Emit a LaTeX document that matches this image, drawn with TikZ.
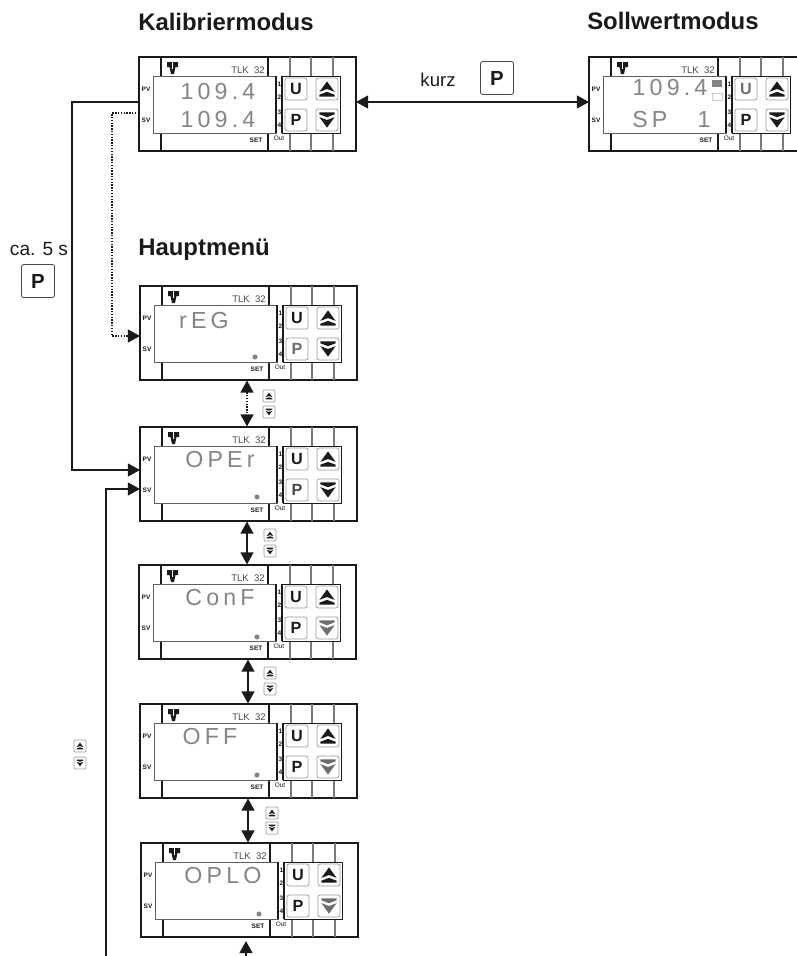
\documentclass[tikz,border=0pt]{standalone}
\usepackage{fontspec}
\setmainfont{Liberation Sans}
\newfontfamily\segfont[LetterSpace=18]{Liberation Sans}
\usepackage{xcolor}
\definecolor{ink}{HTML}{1A1A1A}
\definecolor{segment}{HTML}{858585}
\definecolor{rail}{HTML}{7A7A7A}
\definecolor{fadekey}{HTML}{6E6E6E}
\definecolor{keyedge}{HTML}{9A9A9A}
\usetikzlibrary{arrows.meta}
\tikzset{
  >={Triangle[length=8.6pt,width=9.2pt]},
  frame/.style  ={draw=ink,line width=0.8pt,inner sep=0pt,minimum width=154.3pt,
                  minimum height=66.8pt},
  dsp/.style    ={font=\segfont\fontsize{16.5}{17}\selectfont,text=segment,inner sep=0pt},
  title/.style  ={font=\fontsize{17}{17}\selectfont\bfseries,text=ink,anchor=west,inner sep=0pt},
  lbl/.style    ={font=\fontsize{13.2}{13.2}\selectfont,text=ink,inner sep=0pt},
  tiny/.style   ={font=\fontsize{4.6}{5}\selectfont\bfseries,text=ink,inner sep=0pt},
  model/.style  ={font=\fontsize{6.8}{7}\selectfont,text=ink!80,inner sep=0pt},
  key/.style    ={draw=keyedge,fill=white,rounded corners=1.5pt,line width=0.5pt,
                  minimum size=15.6pt,inner sep=0pt,font=\fontsize{11.5}{12}\selectfont\bfseries},
  bigkey/.style ={draw=ink!80,fill=white,rounded corners=1.5pt,line width=0.6pt,
                  minimum size=23.4pt,inner sep=0pt,font=\fontsize{14.5}{15}\selectfont\bfseries,text=ink},
  minikey/.style={draw=keyedge,fill=white,rounded corners=0.8pt,line width=0.5pt,
                  minimum size=8.6pt,inner sep=0pt},
  setdot/.style ={circle,fill=segment,inner sep=0pt,minimum size=3.6pt},
  flow/.style   ={draw=ink,line width=1pt},
  dots/.style   ={draw=ink,line width=1pt,densely dotted},
}
% arrow glyph of a key: x, y, scale, direction (1 up, -1 down), colour
\newcommand{\keyicon}[5]{%
  \fill[#5,shift={(#1,#2)},xscale=#3,yscale=#3*#4]
    (0,-8) -- (8,3) -- (0,0) -- (-8,3) -- cycle
    (0,3) -- (8,6) -- (8,8) -- (-8,8) -- (-8,6) -- cycle;
}
% pair of small keys
\newcommand{\minikeys}[4]{%
  \node[minikey] (#1-up) at (#2,#3) {};
  \node[minikey] (#1-dn) at (#2,#4) {};
  \keyicon{#2}{#3}{0.42}{1}{ink}
  \keyicon{#2}{#4}{0.42}{-1}{ink}
}
% controller front: name, x, y, colour of U, colour of P, colour of down key
\newcommand{\tlkpanel}[6]{%
  \begin{scope}[shift={(#2,#3)}]
    \node[frame] (#1) at (108.5,47) {};
    \draw[ink,line width=0.9pt] (22,0) -- (22,94) (129,0) -- (129,94);
    \draw[rail,line width=0.9pt] (151,0) -- (151,94) (172,0) -- (172,94) (194,0) -- (194,94);
    \fill[white] (14,19) rectangle (201,76);
    \draw[ink!70,line width=0.7pt] (14,19) rectangle (137,76);
    \draw[ink,line width=0.9pt] (137,19) -- (137,76) (143,19) -- (143,76);
    \draw[ink,line width=0.6pt] (143,19) -- (201,19) -- (201,76) -- (143,76);
    \node[tiny] (#1-pv) at (7,32) {PV};
    \node[tiny] (#1-sv) at (7,63) {SV};
    \node[model] (#1-tlk) at (109,13) {TLK\ \ 32};
    \node[tiny] (#1-set) at (117,83) {SET};
    \node[tiny,font=\fontsize{4.6}{5}\selectfont] (#1-out) at (140,81) {Out};
    \node[tiny] at (140.5,27) {1};
    \node[tiny] at (140.5,40) {2};
    \node[tiny] at (140.5,55) {3};
    \node[tiny] at (140.5,68) {4};
    \fill[ink] (28,5) -- (39,5) -- (39,10) -- (36.5,10) -- (35,17) -- (32,17) -- (30.5,10) -- (28,10) -- cycle;
    \draw[white,line width=0.4pt] (33.5,5) -- (33.5,12);
    \node[key,text=#4] (#1-u) at (157,32) {U};
    \node[key,text=#5] (#1-p) at (157,63) {P};
    \node[key] (#1-a) at (188,32) {};
    \node[key] (#1-b) at (188,63) {};
    \keyicon{188}{32}{0.95}{1}{ink}
    \keyicon{188}{63}{0.95}{-1}{#6}
  \end{scope}
}

\begin{document}
\begin{tikzpicture}[x=0.025cm,y=-0.025cm]
\useasboundingbox (0,0) rectangle (797,956);
% modes
\node[title] (tkalib) at (138,22) {Kalibriermodus};
\node[title] (tsoll) at (587,21) {Sollwertmodus};
\node[title] (thaupt) at (138,250) {Hauptmenü};
\tlkpanel{kalib}{139}{57}{ink}{ink}{ink}
\tlkpanel{soll}{589}{57}{fadekey}{ink}{ink}
\node[dsp] (kalib-a) at (218,92) {109.4};
\node[dsp] (kalib-b) at (218,120) {109.4};
\node[dsp] (soll-a) at (670,88) {109.4};
\node[dsp,anchor=west] (soll-b) at (632,120) {SP\hspace{21.5pt}1};
\fill[segment] (712,80) rectangle (722,87);
\draw[black!20,line width=0.5pt] (712,93) rectangle (722,100);
% main menu
\tlkpanel{reg}{140}{286}{ink}{fadekey}{ink}
\tlkpanel{oper}{140}{427}{ink}{ink!80}{ink}
\tlkpanel{conf}{139}{565}{ink}{ink}{fadekey}
\tlkpanel{off}{140}{704}{ink}{ink}{fadekey}
\tlkpanel{oplo}{141}{843}{ink}{ink}{fadekey}
\node[dsp] (reg-a) at (204,321) {rEG};
\node[dsp] (oper-a) at (220,460) {OPEr};
\node[dsp] (conf-a) at (220,598) {ConF};
\node[dsp] (off-a) at (210,737) {OFF};
\node[dsp] (oplo-a) at (223,876) {OPLO};
\node[setdot] at (255,357) {};
\node[setdot] at (257,497) {};
\node[setdot] at (257,637) {};
\node[setdot] at (257,775) {};
\node[setdot] at (259,914) {};
% keys beside arrows
\node[lbl] (kurz) at (438,80) {kurz};
\node[bigkey] (kurzkey) at (497,78) {P};
\node[lbl,font=\fontsize{13.6}{14}\selectfont] (lang) at (39,249) {ca. 5 s};
\node[bigkey] (langkey) at (38,281) {P};
\minikeys{k1}{269}{396}{412}
\minikeys{k2}{270}{535}{551}
\minikeys{k3}{270}{673}{689}
\minikeys{k4}{272}{813}{828}
\minikeys{k5}{80}{746}{763}
% connectors
\coordinate (kalib-out) at (139,102);
\coordinate (kalib-dot) at (139,113);
\coordinate (soll-in) at (589,102);
\coordinate (kalib-in) at (356,102);
\coordinate (reg-in) at (140,336);
\coordinate (oper-in) at (140,470);
\coordinate (oper-ret) at (140,489);
\coordinate (foot-a) at (106,956);
\coordinate (foot-b) at (246,956);
\draw[flow,<->] (kalib-in) -- (soll-in);
\draw[flow,->] (kalib-out) -- (72,102) -- (72,470) -- (oper-in);
\draw[dots,->] (kalib-dot) -- (112,113) -- (112,336) -- (reg-in);
\draw[flow,->] (foot-a) -- (106,489) -- (oper-ret);
\draw[dots,<->] (reg.south -| 247,0) -- (oper.north -| 247,0);
\draw[flow,<->] (oper.south -| 247,0) -- (conf.north -| 247,0);
\draw[flow,<->] (conf.south -| 248,0) -- (off.north -| 248,0);
\draw[flow,<->] (off.south -| 248,0) -- (oplo.north -| 248,0);
\draw[flow,->] (foot-b) -- (246,941);
\end{tikzpicture}
\end{document}
